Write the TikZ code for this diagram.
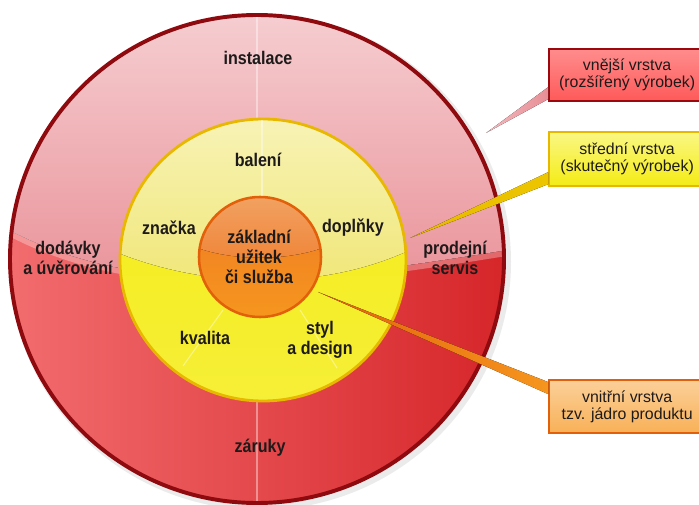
\documentclass[tikz,border=0pt]{standalone}
\usepackage{fontspec}
\setmainfont{Liberation Sans}
\newfontfamily\narrowfont{Liberation Sans}[FakeStretch=0.88]
\usetikzlibrary{calc}

\definecolor{redrim}{HTML}{8E0A0E}
\definecolor{redleft}{HTML}{F26C6E}
\definecolor{redright}{HTML}{D6262A}
\definecolor{pinktop}{HTML}{F6D0D3}
\definecolor{pinkbot}{HTML}{E88E95}
\definecolor{yelrim}{HTML}{E8B800}
\definecolor{yeltop}{HTML}{F8F4BC}
\definecolor{yelmid}{HTML}{F0E676}
\definecolor{yellow low}{HTML}{F4EC14}
\definecolor{orrim}{HTML}{E2600A}
\definecolor{ortop}{HTML}{EE7A26}
\definecolor{orbot}{HTML}{F6961E}
\definecolor{orglosstop}{HTML}{F2A466}
\definecolor{orglossbot}{HTML}{EF8538}
\definecolor{textdark}{HTML}{1E1A1A}

\begin{document}
\begin{tikzpicture}[x=0.025cm, y=-0.025cm,
    ringlabel/.style={font=\narrowfont\bfseries\fontsize{13}{14.2}\selectfont, align=center, text=textdark, inner sep=1pt},
    boxlabel/.style={font=\fontsize{11.3}{12.2}\selectfont, align=center, text=textdark},
    layerbox/.style={line width=1.6pt, minimum width=3.9cm, anchor=north west, inner sep=2pt},
    ray/.style={white, opacity=0.4, line width=0.8pt}]
    \useasboundingbox (0,0) rectangle (699,505);
    \clip (0,0) rectangle (699,505);

    % vnejsi vrstva
    \fill[black, opacity=0.08] (260,262) ellipse [x radius=251, y radius=248];
    \fill[left color=redleft, right color=redright] (257,259) ellipse [x radius=247, y radius=244];
    \begin{scope}
        \clip (257,259) ellipse [x radius=247, y radius=244];
        \fill[top color=pinktop, bottom color=pinkbot] (0,0) -- (699,0) -- (699,240) -- (520,248) .. controls (350,275) and (150,310) .. (0,225) -- cycle;
        \draw[white, opacity=0.3, line width=4pt] (520,251) .. controls (350,278) and (150,313) .. (0,228);
    \end{scope}
    \draw[redrim, line width=2.8pt] (257,259) ellipse [x radius=247, y radius=244];
    \draw[ray] (257,17) -- (257,118);
    \draw[ray] (257,402) -- (257,501);

    % stredni vrstva
    \fill[top color=yellow low, bottom color=yellow low!85!white] (263,260) ellipse [x radius=143, y radius=141];
    \begin{scope}
        \clip (263,260) ellipse [x radius=143, y radius=141];
        \fill[top color=yeltop, bottom color=yelmid] (100,100) -- (420,100) -- (420,245) .. controls (330,292) and (200,292) .. (100,245) -- cycle;
    \end{scope}
    \draw[yelrim, line width=2pt] (263,260) ellipse [x radius=143, y radius=141];
    \draw[ray] (262,120) -- (262,197);
    \draw[ray] (223,310) -- (183,366);
    \draw[ray] (300,310) -- (337,368);

    % jadro
    \fill[top color=ortop, bottom color=orbot] (260,257) ellipse [x radius=61, y radius=60];
    \begin{scope}
        \clip (260,257) ellipse [x radius=61, y radius=60];
        \fill[top color=orglosstop, bottom color=orglossbot] (190,190) -- (330,190) -- (330,245) .. controls (290,262) and (230,262) .. (190,245) -- cycle;
    \end{scope}
    \draw[orrim, line width=1.8pt] (260,257) ellipse [x radius=61, y radius=60];

    % popisky
    \node[layerbox, draw=redrim!90!red, top color=red!45!white, bottom color=red!65!white, minimum height=1.3cm] (vnejsi) at (548,48) {};
    \node[boxlabel] at (vnejsi.center) {vnější vrstva\\(rozšířený výrobek)};
    \node[layerbox, draw=yelrim, top color=yeltop!70!yellow, bottom color=yellow low, minimum height=1.35cm] (stredni) at (548,131) {};
    \node[boxlabel] at (stredni.center) {střední vrstva\\(skutečný výrobek)};
    \node[layerbox, draw=orrim, top color=orbot!45!white, bottom color=orbot!75!white, minimum height=1.33cm] (vnitrni) at (548,379) {};
    \node[boxlabel] at (vnitrni.center) {vnitřní vrstva\\tzv. jádro produktu};

    \coordinate (hrotvnejsi) at (486,133);
    \coordinate (hrotstredni) at (410,238);
    \coordinate (hrotvnitrni) at (318,292);

    \fill[left color=pinkbot!60!white, right color=pinkbot] ($(vnejsi.south west)+(0,-3)$) -- (hrotvnejsi) -- ($(vnejsi.south west)+(0,-15)$) -- cycle;
    \fill[left color=yelrim, right color=yelrim!80!yellow] ($(stredni.south west)+(0,-3)$) -- (hrotstredni) -- ($(stredni.south west)+(0,-15)$) -- cycle;
    \fill[left color=orrim, right color=orbot] ($(vnitrni.north west)+(0,3)$) -- (hrotvnitrni) -- ($(vnitrni.north west)+(0,15)$) -- cycle;

    % texty v kruzich
    \node[ringlabel] (instalace) at (258,58) {instalace};
    \node[ringlabel] (dodavky) at (68,258) {dodávky\\a úvěrování};
    \node[ringlabel] (prodejni) at (455,258) {prodejní\\servis};
    \node[ringlabel] (zaruky) at (260,448) {záruky};
    \node[ringlabel] (baleni) at (258,160) {balení};
    \node[ringlabel] (znacka) at (169,228) {značka};
    \node[ringlabel] (doplnky) at (353,228) {doplňky};
    \node[ringlabel] (kvalita) at (205,338) {kvalita};
    \node[ringlabel] (styl) at (320,340) {styl\\a design};
    \node[ringlabel] (zaklad) at (259,257) {základní\\užitek\\či služba};
\end{tikzpicture}
\end{document}
